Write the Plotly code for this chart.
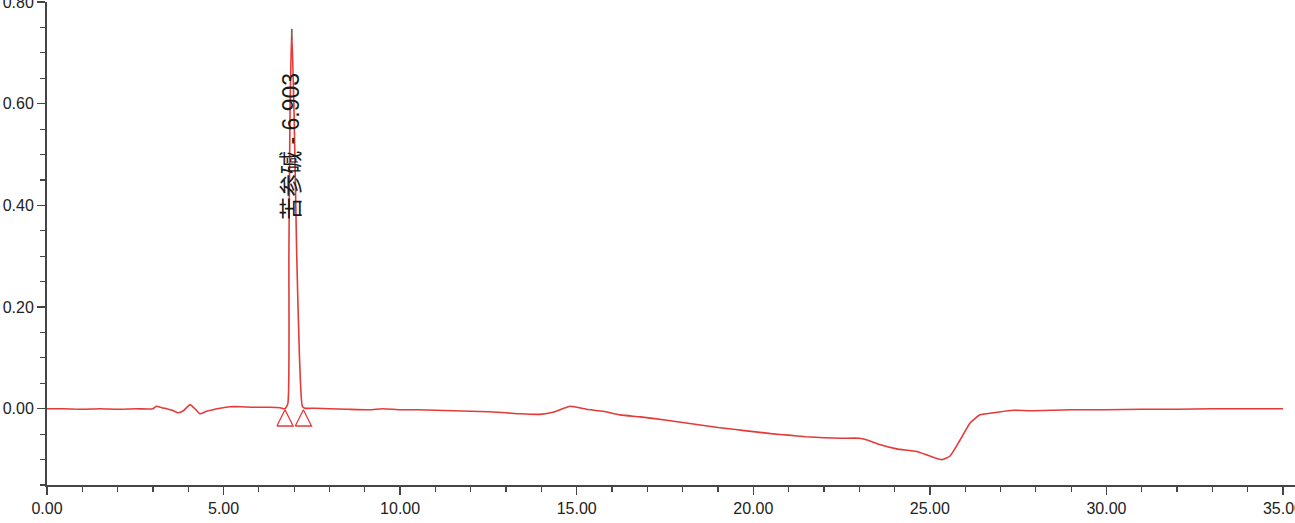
import plotly.graph_objects as go

# ---- data ----
time_min = [0.00, 0.50, 1.00, 1.50, 2.00, 2.50, 3.00, 3.10, 3.25, 3.39, 3.55, 3.72, 3.86, 3.95,
            4.05, 4.19, 4.33, 4.52, 4.90, 5.18, 5.50, 5.84, 6.30, 6.60, 6.74, 6.82, 6.85, 6.88,
            6.93, 7.00, 7.07, 7.15, 7.23, 7.30, 7.60, 8.00, 8.50, 9.15, 9.50, 10.00, 10.50,
            11.00, 11.50, 12.00, 12.50, 13.00, 13.40, 13.96, 14.33, 14.60, 14.81, 15.00, 15.28,
            15.75, 16.23, 16.80, 17.50, 18.00, 18.50, 19.00, 19.50, 20.00, 20.50, 21.00, 21.50,
            22.00, 22.50, 23.00, 23.20, 23.60, 24.06, 24.63, 25.00, 25.34, 25.57, 25.86, 26.14,
            26.42, 26.90, 27.36, 27.84, 28.50, 29.00, 30.00, 31.00, 32.00, 33.00, 34.00, 35.00]
absorb_au = [0.000, 0.000, -0.001, 0.000, -0.001, 0.000, 0.000, 0.005, 0.002, 0.000, -0.003, -0.008,
             -0.004, 0.002, 0.008, 0.000, -0.010, -0.005, 0.001, 0.004, 0.004, 0.003, 0.003, 0.002,
             0.000, 0.010, 0.300, 0.570, 0.747, 0.570, 0.307, 0.100, 0.005, 0.001, 0.001, 0.000,
             -0.001, -0.002, 0.000, -0.002, -0.002, -0.003, -0.004, -0.005, -0.006, -0.008, -0.010,
             -0.011, -0.007, 0.000, 0.005, 0.003, -0.001, -0.005, -0.012, -0.016, -0.022, -0.027,
             -0.032, -0.037, -0.041, -0.045, -0.049, -0.052, -0.055, -0.057, -0.058, -0.058, -0.061,
             -0.071, -0.079, -0.084, -0.093, -0.100, -0.093, -0.061, -0.028, -0.012, -0.007, -0.003,
             -0.004, -0.003, -0.002, -0.002, -0.001, -0.001, 0.000, 0.000, 0.000]

peak_names = ["苦参碱"]
peak_times = [6.903]
peak_apex_time = 6.93
peak_apex_value = 0.747
label_start_value = 0.368

integration_marks = [6.74, 7.26]   # peak start / end markers
integration_level = -0.002

x_ticks = [0, 5, 10, 15, 20, 25, 30, 35]
x_tick_text = ["0.00", "5.00", "10.00", "15.00", "20.00", "25.00", "30.00", "35.00"]
y_ticks = [0.0, 0.2, 0.4, 0.6, 0.8]
y_tick_text = ["0.00", "0.20", "0.40", "0.60", "0.80"]

# ---- style ----
RED = "#e43a38"
AXIS = "#454545"
TXT = "#222222"
FONT = "Liberation Sans, Arial, Noto Sans CJK SC, sans-serif"
TRI_HALF_W = 0.23
TRI_H = 0.032

fig = go.Figure()

fig.add_trace(go.Scatter(x=time_min, y=absorb_au, mode="lines",
                         line=dict(color=RED, width=1.6, shape="spline", smoothing=0.5),
                         hoverinfo="skip"))

# gray apex tip
fig.add_trace(go.Scatter(x=[peak_apex_time, peak_apex_time],
                         y=[peak_apex_value - 0.022, peak_apex_value], mode="lines",
                         line=dict(color="#6a6a6a", width=1.6), hoverinfo="skip"))

# integration triangles
tx, ty = [], []
for t in integration_marks:
    tx += [t - TRI_HALF_W, t, t + TRI_HALF_W, t - TRI_HALF_W, None]
    ty += [integration_level - TRI_H, integration_level, integration_level - TRI_H,
           integration_level - TRI_H, None]
fig.add_trace(go.Scatter(x=tx, y=ty, mode="lines", line=dict(color=RED, width=1.3),
                         hoverinfo="skip"))

for name, rt in zip(peak_names, peak_times):
    fig.add_annotation(x=rt, y=label_start_value, xref="x", yref="y",
                       text=f"{name} - {rt:.3f}", textangle=-90, showarrow=False,
                       xanchor="center", yanchor="bottom",
                       font=dict(family=FONT, size=23, color="#1a1a1a"))

axis_common = dict(showgrid=False, zeroline=False, showline=True, linewidth=2, linecolor=AXIS,
                   ticks="outside", ticklen=8, tickwidth=1.5, tickcolor=AXIS,
                   tickfont=dict(family=FONT, size=16, color=TXT),
                   ticklabeloverflow="allow", automargin=False)

fig.update_xaxes(range=[0, 35.34], tickvals=x_ticks, ticktext=x_tick_text,
                 minor=dict(dtick=1, tick0=0, ticks="outside", ticklen=5, tickwidth=1.2,
                            tickcolor=AXIS, showgrid=False),
                 **axis_common)
fig.update_yaxes(range=[-0.15, 0.80], tickvals=y_ticks, ticktext=y_tick_text,
                 minor=dict(dtick=0.05, tick0=0, ticks="outside", ticklen=5, tickwidth=1.2,
                            tickcolor=AXIS, showgrid=False),
                 **axis_common)

fig.update_layout(width=1295, height=523, autosize=False,
                  margin=dict(l=47, r=0, t=2, b=38, pad=0, autoexpand=False),
                  plot_bgcolor="white", paper_bgcolor="white", showlegend=False,
                  font=dict(family=FONT))

fig.write_html("out.html", config={"displayModeBar": False, "staticPlot": True},
               post_script="document.body.style.margin='0px';document.body.style.overflow='hidden';")
